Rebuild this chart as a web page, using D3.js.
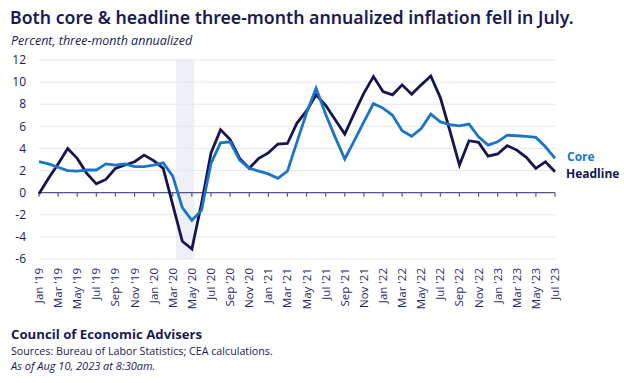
<!DOCTYPE html>
<html><head><meta charset="utf-8">
<script src="https://cdn.jsdelivr.net/npm/d3@7"></script>
<style>
html,body{margin:0;padding:0;background:#fff;}
svg{display:block;font-family:"Open Sans","Noto Sans",sans-serif;}
</style></head>
<body><svg id="chart" width="624" height="383"></svg>
<script>
const months = ["2019-01","2019-02","2019-03","2019-04","2019-05","2019-06","2019-07","2019-08","2019-09","2019-10","2019-11","2019-12",
"2020-01","2020-02","2020-03","2020-04","2020-05","2020-06","2020-07","2020-08","2020-09","2020-10","2020-11","2020-12",
"2021-01","2021-02","2021-03","2021-04","2021-05","2021-06","2021-07","2021-08","2021-09","2021-10","2021-11","2021-12",
"2022-01","2022-02","2022-03","2022-04","2022-05","2022-06","2022-07","2022-08","2022-09","2022-10","2022-11","2022-12",
"2023-01","2023-02","2023-03","2023-04","2023-05","2023-06","2023-07"];
const headline = [-0.1,1.3,2.6,4.0,3.1,1.75,0.8,1.2,2.2,2.5,2.8,3.4,2.9,2.2,-1.1,-4.4,-5.1,-1.0,3.6,5.7,4.8,3.1,2.2,3.1,3.6,4.4,4.45,6.3,7.4,8.85,7.9,6.6,5.3,7.2,9.0,10.5,9.15,8.85,9.75,8.9,9.75,10.55,8.6,5.6,2.5,4.7,4.55,3.3,3.5,4.25,3.85,3.2,2.2,2.8,1.9];
const core = [2.8,2.6,2.3,2.0,1.95,2.05,2.05,2.6,2.5,2.6,2.35,2.35,2.5,2.7,1.5,-1.35,-2.5,-1.6,2.65,4.5,4.6,2.95,2.2,1.95,1.7,1.3,1.95,4.6,7.2,9.45,7.1,5.0,3.05,4.7,6.4,8.05,7.65,7.0,5.6,5.1,5.8,7.1,6.4,6.15,6.05,6.2,5.05,4.3,4.6,5.2,5.15,5.1,5.0,4.15,3.1];
const yTicks = [-6,-4,-2,0,2,4,6,8,10,12];
const recession = ["2020-03","2020-05"];
const seriesNames = ["Core","Headline"];

const NAVY = "#15154f", BLUE = "#1b74c5", TEXT = "#1a1a50";
const svg = d3.select("#chart");
const x = d3.scalePoint().domain(months).range([39, 555]);
const y = d3.scaleLinear().domain([-6, 12]).range([259, 60]);
const step = x.step();
const mfmt = d3.timeFormat("%b '%y");
const parse = d3.timeParse("%Y-%m");

// title & subtitle
svg.append("text").attr("x", 10).attr("y", 24).attr("fill", TEXT)
  .attr("font-size", 17.7).attr("font-weight", 600)
  .attr("font-family", "'Noto Sans','Open Sans',sans-serif")
  .text("Both core & headline three-month annualized inflation fell in July.");
svg.append("text").attr("x", 11).attr("y", 45).attr("fill", TEXT)
  .attr("font-size", 12.5).attr("font-style", "italic")
  .text("Percent, three-month annualized");

// recession band
svg.append("rect")
  .attr("x", x(recession[0]) + step*0.35)
  .attr("width", x(recession[1]) - x(recession[0]) - step*0.1)
  .attr("y", y(12)).attr("height", y(-6) - y(12))
  .attr("fill", "#edf0f6");

// gridlines
svg.append("g").selectAll("line").data(yTicks.filter(d => d !== 0)).join("line")
  .attr("x1", 39).attr("x2", 555).attr("y1", d => y(d)).attr("y2", d => y(d))
  .attr("stroke", "#e4e7ef").attr("stroke-width", 1);

// y labels
svg.append("g").selectAll("text").data(yTicks).join("text")
  .attr("x", 26).attr("y", d => y(d)).attr("dy", "0.35em")
  .attr("text-anchor", "end").attr("fill", TEXT).attr("font-size", 12)
  .text(d => d);

// zero axis with ticks
const tickMonths = months.filter((m, i) => i % 2 === 0);
svg.append("line").attr("x1", 39).attr("x2", 555).attr("y1", y(0)).attr("y2", y(0))
  .attr("stroke", "#55558a").attr("stroke-width", 1.3);
svg.append("g").selectAll("line").data(tickMonths).join("line")
  .attr("x1", d => x(d)).attr("x2", d => x(d))
  .attr("y1", y(0)).attr("y2", y(0) + 4)
  .attr("stroke", "#55558a").attr("stroke-width", 1.2);

// x labels
svg.append("g").selectAll("text").data(tickMonths).join("text")
  .attr("transform", d => `translate(${x(d)},268) rotate(-90)`)
  .attr("dy", "0.35em").attr("text-anchor", "end")
  .attr("fill", "#1f2766").attr("font-size", 11.5)
  .text(d => mfmt(parse(d)));

// lines
const line = d3.line().x((d, i) => x(months[i])).y(d => y(d));
svg.append("path").datum(headline).attr("d", line).attr("fill", "none")
  .attr("stroke", NAVY).attr("stroke-width", 2.8).attr("stroke-linejoin", "miter");
svg.append("path").datum(core).attr("d", line).attr("fill", "none")
  .attr("stroke", BLUE).attr("stroke-width", 2.8).attr("stroke-linejoin", "miter");

// series labels
svg.append("text").attr("x", 567).attr("y", 160.5).attr("fill", BLUE)
  .attr("font-size", 12).attr("font-weight", 700).text(seriesNames[0]);
svg.append("text").attr("x", 566).attr("y", 178).attr("fill", NAVY)
  .attr("font-size", 12).attr("font-weight", 700).text(seriesNames[1]);

// footer
svg.append("text").attr("x", 11).attr("y", 339).attr("fill", TEXT)
  .attr("font-size", 13.2).attr("font-weight", 700).text("Council of Economic Advisers");
svg.append("text").attr("x", 11).attr("y", 355).attr("fill", TEXT)
  .attr("font-size", 10.7).text("Sources: Bureau of Labor Statistics; CEA calculations.");
svg.append("text").attr("x", 11).attr("y", 370).attr("fill", TEXT)
  .attr("font-size", 11).attr("font-style", "italic").text("As of Aug 10, 2023 at 8:30am.");
</script></body></html>
